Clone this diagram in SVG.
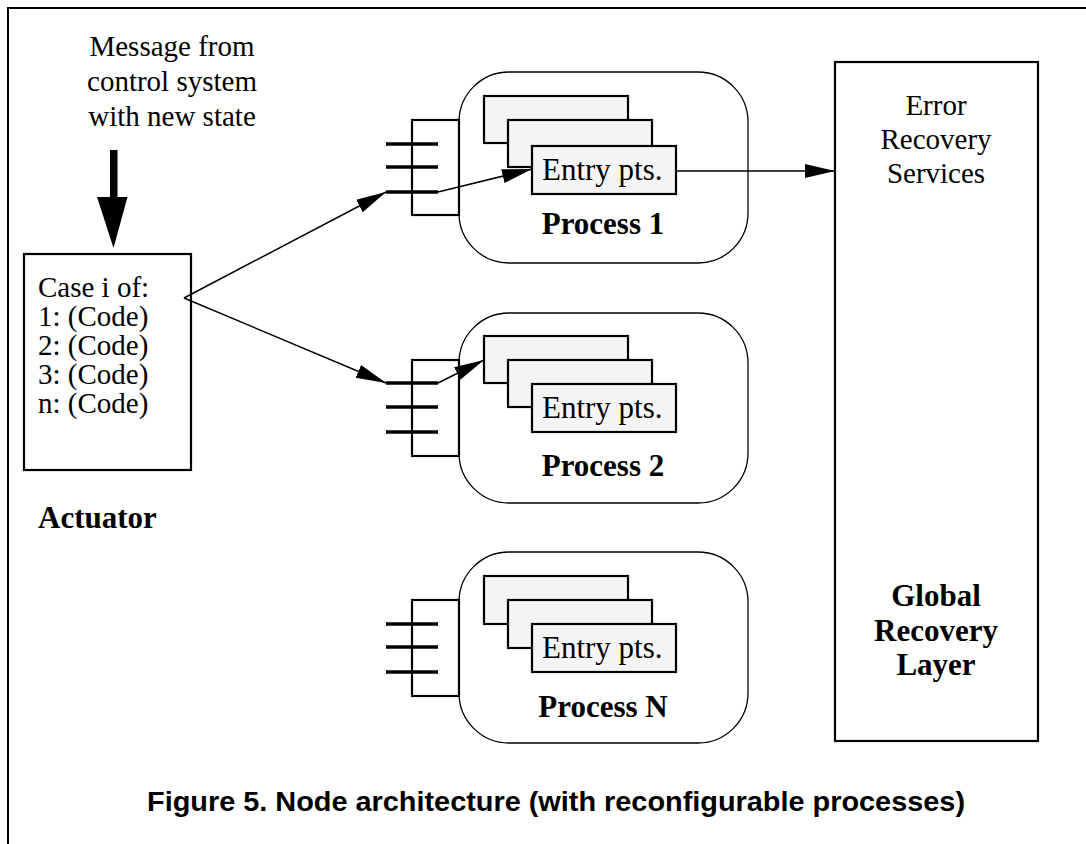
<svg xmlns="http://www.w3.org/2000/svg" width="1086" height="844" viewBox="0 0 1086 844">
<style>
.t{font-family:"Liberation Serif","Times New Roman",serif;font-size:31px;fill:#000}
.s{font-family:"Liberation Serif","Times New Roman",serif;font-size:29px;fill:#000}
.b{font-family:"Liberation Serif","Times New Roman",serif;font-size:31px;font-weight:bold;fill:#000}
.cap{font-family:"Liberation Sans",Arial,sans-serif;font-size:28px;font-weight:bold;fill:#000}
.box{fill:#fff;stroke:#000;stroke-width:2.2}
.proc{fill:#fff;stroke:#000;stroke-width:1.3}
.ep{fill:#f5f5f5;stroke:#000;stroke-width:2.2}
.pin{stroke:#000;stroke-width:3.5}
.con{fill:none;stroke:#000;stroke-width:1.5}
</style>
<defs>
<marker id="ah" markerUnits="userSpaceOnUse" markerWidth="32" markerHeight="16" refX="30" refY="7" orient="auto">
<path d="M0,0 L30,7 L0,14 z" fill="#000"/>
</marker>
</defs>
<rect width="1086" height="844" fill="#fff"/>
<path d="M8,844 V8 H1086" fill="none" stroke="#000" stroke-width="2"/>

<g id="message">
<text class="s" x="172" y="56" text-anchor="middle">Message from</text>
<text class="s" x="172" y="91" text-anchor="middle">control system</text>
<text class="s" x="172" y="126" text-anchor="middle">with new state</text>
<rect x="110" y="150" width="7.5" height="48" fill="#000"/>
<path d="M97,197 L127.5,197 L113.5,248 z" fill="#000"/>
</g>

<g id="actuator">
<rect class="box" x="24" y="254" width="167" height="216"/>
<text class="s" x="38" y="297">Case i of:</text>
<text class="s" x="38" y="326">1: (Code)</text>
<text class="s" x="38" y="355">2: (Code)</text>
<text class="s" x="38" y="384">3: (Code)</text>
<text class="s" x="38" y="413">n: (Code)</text>
<text class="b" x="38" y="528">Actuator</text>
</g>

<g id="process1">
<rect class="proc" x="459" y="72" width="289" height="191" rx="50" ry="50"/>
<rect class="box" x="412" y="120" width="47" height="95"/>
<line class="pin" x1="386" y1="144" x2="438" y2="144"/>
<line class="pin" x1="386" y1="167" x2="438" y2="167"/>
<line class="pin" x1="386" y1="192" x2="438" y2="192"/>
<rect class="ep" x="484" y="96" width="144" height="47"/>
<rect class="ep" x="508" y="120" width="144" height="47"/>
<rect class="ep" x="532" y="146" width="144" height="48"/>
<text class="t" x="542" y="180">Entry pts.</text>
<text class="b" x="603" y="234" text-anchor="middle">Process 1</text>
</g>

<g id="process2">
<rect class="proc" x="459" y="313" width="289" height="190" rx="50" ry="50"/>
<rect class="box" x="412" y="360" width="47" height="96"/>
<line class="pin" x1="386" y1="383" x2="438" y2="383"/>
<line class="pin" x1="386" y1="407" x2="438" y2="407"/>
<line class="pin" x1="386" y1="432" x2="438" y2="432"/>
<rect class="ep" x="484" y="336" width="144" height="47"/>
<rect class="ep" x="508" y="360" width="144" height="47"/>
<rect class="ep" x="532" y="384" width="144" height="48"/>
<text class="t" x="542" y="418">Entry pts.</text>
<text class="b" x="603" y="476" text-anchor="middle">Process 2</text>
</g>

<g id="processN">
<rect class="proc" x="459" y="552" width="289" height="191" rx="50" ry="50"/>
<rect class="box" x="412" y="600" width="47" height="96"/>
<line class="pin" x1="386" y1="624" x2="438" y2="624"/>
<line class="pin" x1="386" y1="647" x2="438" y2="647"/>
<line class="pin" x1="386" y1="672" x2="438" y2="672"/>
<rect class="ep" x="484" y="576" width="144" height="48"/>
<rect class="ep" x="508" y="600" width="144" height="48"/>
<rect class="ep" x="532" y="624" width="144" height="48"/>
<text class="t" x="542" y="658">Entry pts.</text>
<text class="b" x="603" y="717" text-anchor="middle">Process N</text>
</g>

<g id="recovery">
<rect class="box" x="835" y="62" width="203" height="679"/>
<text class="s" x="936" y="115" text-anchor="middle">Error</text>
<text class="s" x="936" y="149" text-anchor="middle">Recovery</text>
<text class="s" x="936" y="183" text-anchor="middle">Services</text>
<text class="b" x="936" y="606" text-anchor="middle">Global</text>
<text class="b" x="936" y="641" text-anchor="middle">Recovery</text>
<text class="b" x="936" y="675" text-anchor="middle">Layer</text>
</g>

<g id="connectors">
<line class="con" x1="184" y1="298" x2="386" y2="192" marker-end="url(#ah)"/>
<line class="con" x1="184" y1="298" x2="386" y2="383" marker-end="url(#ah)"/>
<line class="con" x1="438" y1="192" x2="532" y2="169" marker-end="url(#ah)"/>
<line class="con" x1="438" y1="383" x2="484" y2="360" marker-end="url(#ah)"/>
<line class="con" x1="676" y1="171" x2="835" y2="171" marker-end="url(#ah)"/>
</g>

<text class="cap" x="556" y="811" text-anchor="middle" textLength="818" lengthAdjust="spacingAndGlyphs">Figure 5. Node architecture (with reconfigurable processes)</text>
</svg>
